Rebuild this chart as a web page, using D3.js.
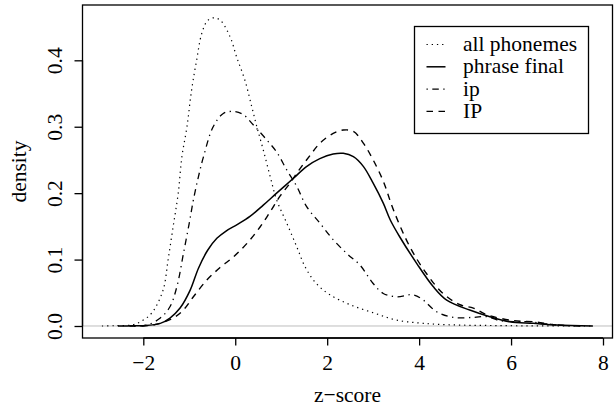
<!DOCTYPE html>
<html>
<head>
<meta charset="utf-8">
<script src="https://cdn.jsdelivr.net/npm/d3@7"></script>
<style>
  html, body { margin: 0; padding: 0; background: #fff; }
  svg { display: block; }
  svg text { font-family: "Liberation Serif", Tinos, "Times New Roman", Times, "DejaVu Serif", serif !important; fill: #000; }
</style>
</head>
<body>
<svg id="chart" width="616" height="408"></svg>
<script>
// ---------- data ----------
const seriesNames = ["all phonemes", "phrase final", "ip", "IP"];

const allPhonemesX = [-2.9,-2.6,-2.22,-2.0,-1.81,-1.57,-1.46,-1.35,-1.24,-1.16,-1.05,-0.95,-0.84,-0.73,-0.6,-0.46,-0.32,-0.11,0.03,0.21,0.36,0.47,0.61,0.76,0.90,1.12,1.34,1.52,1.75,2.06,2.5,3.0,3.5,4.1,4.8,5.5,6.2,7.0,7.8];
const allPhonemesY = [0,0.0005,0.002,0.009,0.02,0.054,0.1,0.15,0.2,0.255,0.30,0.355,0.40,0.44,0.46,0.464,0.46,0.435,0.405,0.37,0.33,0.30,0.265,0.225,0.19,0.155,0.119,0.089,0.065,0.047,0.032,0.02,0.009,0.004,0.0015,0.0008,0.0003,0.0001,0];

const phraseFinalX = [-2.55,-2.2,-2.0,-1.63,-1.42,-1.2,-0.98,-0.80,-0.6,-0.4,-0.2,0.05,0.32,0.61,0.90,1.26,1.55,1.84,2.13,2.35,2.57,2.79,3.0,3.22,3.37,3.58,3.95,4.31,4.6,5.1,5.54,5.97,6.48,6.99,7.78];
const phraseFinalY = [0,0.0002,0.0005,0.004,0.012,0.027,0.054,0.087,0.114,0.132,0.143,0.153,0.165,0.182,0.20,0.222,0.24,0.252,0.259,0.26,0.255,0.24,0.215,0.185,0.16,0.134,0.094,0.059,0.039,0.024,0.014,0.0065,0.004,0.0015,0];

const ipX = [-2.2,-1.92,-1.63,-1.42,-1.27,-1.13,-1.0,-0.91,-0.8,-0.69,-0.48,-0.26,-0.04,0.18,0.39,0.65,0.90,1.12,1.34,1.55,1.84,2.13,2.43,2.71,3.0,3.22,3.51,3.87,4.09,4.38,4.74,5.18,5.47,5.76,6.12,6.4,6.77,7.35];
const ipY = [0,0.0015,0.012,0.029,0.059,0.108,0.155,0.19,0.225,0.255,0.30,0.32,0.323,0.318,0.303,0.283,0.262,0.235,0.21,0.18,0.155,0.13,0.109,0.092,0.064,0.049,0.044,0.047,0.039,0.0215,0.013,0.013,0.014,0.008,0.0065,0.0065,0.003,0];

const IPX = [-2.3,-1.78,-1.35,-1.13,-0.91,-0.62,-0.33,-0.04,0.25,0.54,0.76,0.97,1.19,1.41,1.63,1.84,2.13,2.35,2.57,2.79,3.0,3.22,3.44,3.8,4.16,4.52,4.89,5.18,5.47,6.05,6.48,6.99,7.6];
const IPY = [0,0.0015,0.012,0.024,0.044,0.069,0.088,0.104,0.124,0.149,0.172,0.195,0.215,0.237,0.257,0.275,0.29,0.295,0.293,0.275,0.25,0.218,0.175,0.119,0.079,0.049,0.032,0.027,0.017,0.008,0.0065,0.0015,0];

const xTicks = [-2, 0, 2, 4, 6, 8];
const yTicks = [0, 0.1, 0.2, 0.3, 0.4];
const xLabel = "z\u2212score";
const yLabel = "density";

// ---------- layout ----------
const svg = d3.select("#chart");
const pLeft = 82.5, pRight = 612.5, pTop = 5, pBottom = 338;
const fontSize = 21.5;

const x = d3.scaleLinear().domain([-3.3226, 8.2067]).range([pLeft, pRight]);
const y = d3.scaleLinear().domain([-0.01807, 0.48327]).range([pBottom, pTop]);

const styles = [
  { dash: "1.3 3.9", width: 1.2 },
  { dash: null, width: 1.5 },
  { dash: "1.3 4.5 6.5 4.5", width: 1.3 },
  { dash: "6.5 5.5", width: 1.4 }
];

// grey zero line
svg.append("line")
  .attr("x1", pLeft).attr("x2", pRight)
  .attr("y1", y(0)).attr("y2", y(0))
  .attr("stroke", "#bebebe").attr("stroke-width", 1);

// curves
const series = [
  allPhonemesX.map((v, i) => [v, allPhonemesY[i]]),
  phraseFinalX.map((v, i) => [v, phraseFinalY[i]]),
  ipX.map((v, i) => [v, ipY[i]]),
  IPX.map((v, i) => [v, IPY[i]])
];
const line = d3.line()
  .x(d => x(d[0])).y(d => y(d[1]))
  .curve(d3.curveCatmullRom.alpha(0.5));

series.forEach((s, i) => {
  svg.append("path")
    .attr("d", line(s))
    .attr("fill", "none")
    .attr("stroke", "#000")
    .attr("stroke-width", styles[i].width)
    .attr("stroke-dasharray", styles[i].dash)
    .attr("stroke-linecap", "butt");
});

// plot box
svg.append("rect")
  .attr("x", pLeft).attr("y", pTop)
  .attr("width", pRight - pLeft).attr("height", pBottom - pTop)
  .attr("fill", "none").attr("stroke", "#000").attr("stroke-width", 1.3);

// x axis
const xAxis = d3.axisBottom(x).tickValues(xTicks)
  .tickFormat(d => d < 0 ? "\u2212" + Math.abs(d) : String(d))
  .tickSize(7.5).tickPadding(5);
const gx = svg.append("g").attr("transform", `translate(0,${pBottom})`).call(xAxis);
gx.attr("font-family", null);
gx.select(".domain").attr("d", `M${x(xTicks[0])},0H${x(xTicks[xTicks.length-1])}`).attr("stroke-width", 1.3);
gx.selectAll(".tick line").attr("stroke-width", 1.3);
gx.selectAll(".tick text")
  .attr("font-size", fontSize)
  .attr("dy", null).attr("y", 31.5);

// y axis
const yAxis = d3.axisLeft(y).tickValues(yTicks)
  .tickFormat(d3.format(".1f"))
  .tickSize(8);
const gy = svg.append("g").attr("transform", `translate(${pLeft},0)`).call(yAxis);
gy.attr("font-family", null);
gy.select(".domain").attr("d", `M0,${y(yTicks[0])}V${y(yTicks[yTicks.length-1])}`).attr("stroke-width", 1.3);
gy.selectAll(".tick line").attr("stroke-width", 1.3);
gy.selectAll(".tick text")
  .attr("font-size", fontSize)
  .attr("x", null).attr("dy", null)
  .attr("text-anchor", "middle")
  .attr("transform", "translate(-20.5,0) rotate(-90)");

// axis titles
svg.append("text")
  .attr("x", (pLeft + pRight) / 2).attr("y", 402)
  .attr("text-anchor", "middle").attr("font-size", fontSize)
  .text(xLabel);
svg.append("text")
  .attr("transform", `translate(26,${(pTop + pBottom) / 2}) rotate(-90)`)
  .attr("text-anchor", "middle").attr("font-size", fontSize)
  .text(yLabel);

// legend
const lg = svg.append("g");
lg.append("rect")
  .attr("x", 414.5).attr("y", 26.5).attr("width", 174).attr("height", 107)
  .attr("fill", "#fff").attr("stroke", "#000").attr("stroke-width", 1.3);
seriesNames.forEach((name, i) => {
  const base = 51 + i * 22.3;
  lg.append("line")
    .attr("x1", 426.5).attr("x2", 445.5)
    .attr("y1", base - 6.5).attr("y2", base - 6.5)
    .attr("stroke", "#000")
    .attr("stroke-width", styles[i].width)
    .attr("stroke-dasharray", styles[i].dash);
  lg.append("text")
    .attr("x", 463).attr("y", base)
    .attr("font-size", fontSize)
    .text(name);
});
</script>
</body>
</html>
